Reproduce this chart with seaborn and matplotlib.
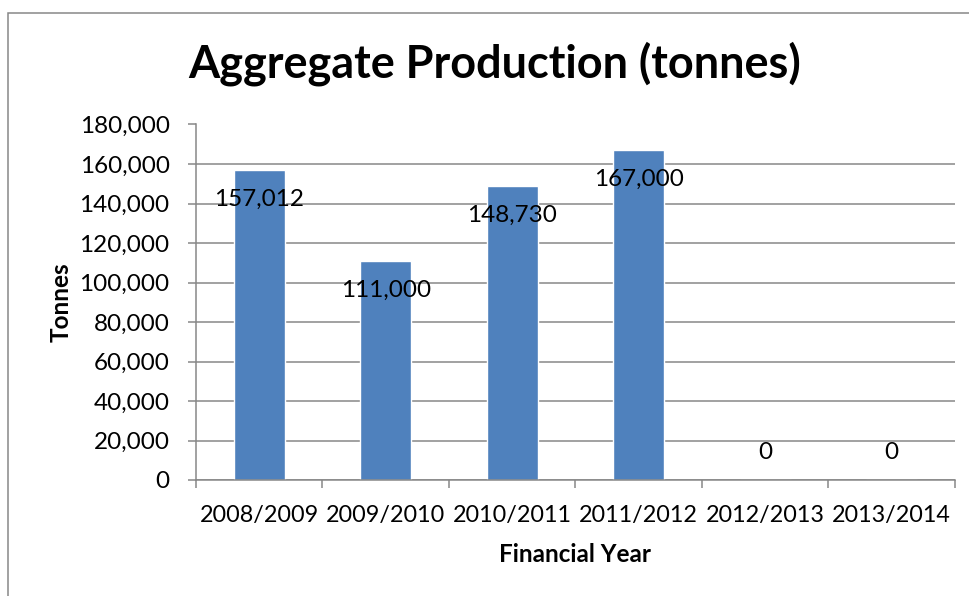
import numpy as np
import pandas as pd
import matplotlib
matplotlib.use("Agg")
import matplotlib.pyplot as plt
from matplotlib.patches import Rectangle
from matplotlib.ticker import FuncFormatter
import seaborn as sns

# Aggregate production by financial year
years = ["2008/2009", "2009/2010", "2010/2011", "2011/2012", "2012/2013", "2013/2014"]
tonnes = [157012, 111000, 148730, 167000, 0, 0]
y_ticks = [0, 20000, 40000, 60000, 80000, 100000, 120000, 140000, 160000, 180000]

title = "Aggregate Production (tonnes)"
x_title = "Financial Year"
y_title = "Tonnes"

sns.set_theme(style="white")
plt.rcParams["font.family"] = ["Lato", "DejaVu Sans"]

W, H = 970, 596
fig = plt.figure(figsize=(W / 100, H / 100), dpi=100)
fig.patch.set_facecolor("white")

left, right, top, bottom = 196, 955, 124.5, 480
ax = fig.add_axes([left / W, 1 - bottom / H, (right - left) / W, (bottom - top) / H])

df = pd.DataFrame({"year": years, "tonnes": tonnes})
bar_color = "#4F81BD"
sns.barplot(data=df, x="year", y="tonnes", color=bar_color, width=0.4,
            saturation=1, ax=ax, zorder=3)

grid_color = "#878787"
ax.set_xlim(-0.5, len(years) - 0.5)
ax.set_ylim(0, 180000)
ax.set_yticks(y_ticks)
ax.yaxis.set_major_formatter(FuncFormatter(lambda v, p: f"{int(v):,}"))
ax.grid(axis="y", color=grid_color, linewidth=1.1, zorder=0)
ax.grid(axis="x", visible=False)

# boundary ticks between categories, labels in the middle
ax.set_xticks(np.arange(-0.5, len(years)), labels=[""] * (len(years) + 1))
ax.set_xticks(np.arange(len(years)), labels=years, minor=True)
ax.tick_params(axis="x", which="major", direction="out", length=6, width=1.1,
               color=grid_color, bottom=True)
ax.tick_params(axis="x", which="minor", length=0, pad=18, labelsize=16.8,
               labelcolor="black")
ax.tick_params(axis="y", direction="out", length=6, width=1.1, color=grid_color,
               left=True, pad=13, labelsize=17.5, labelcolor="black")

for side in ["top", "right"]:
    ax.spines[side].set_visible(False)
for side in ["left", "bottom"]:
    ax.spines[side].set_color(grid_color)
    ax.spines[side].set_linewidth(1.1)
    ax.spines[side].set_zorder(4)

ax.set_xlabel(x_title, fontsize=17.5, fontweight="bold", labelpad=12, color="black")
ax.set_ylabel(y_title, fontsize=17.5, fontweight="bold", labelpad=5, color="black")

# value labels just inside the bar tops
for i, v in enumerate(tonnes):
    off = -21 if v > 0 else 20
    ax.annotate(f"{v:,}", xy=(i, v), xytext=(0, off), textcoords="offset points",
                ha="center", va="center", fontsize=17.5, color="black", zorder=5)

fig.text(495 / W, 1 - 77 / H, title, ha="center", va="baseline",
         fontsize=32.4, fontweight="bold", color="black")

# chart border
fig.patches.append(Rectangle((8.5 / W, -0.1), 1.2, (H - 12.5) / H + 0.1,
                             transform=fig.transFigure, fill=False,
                             edgecolor=grid_color, linewidth=1.1))

fig.savefig("out.png", dpi=100)
